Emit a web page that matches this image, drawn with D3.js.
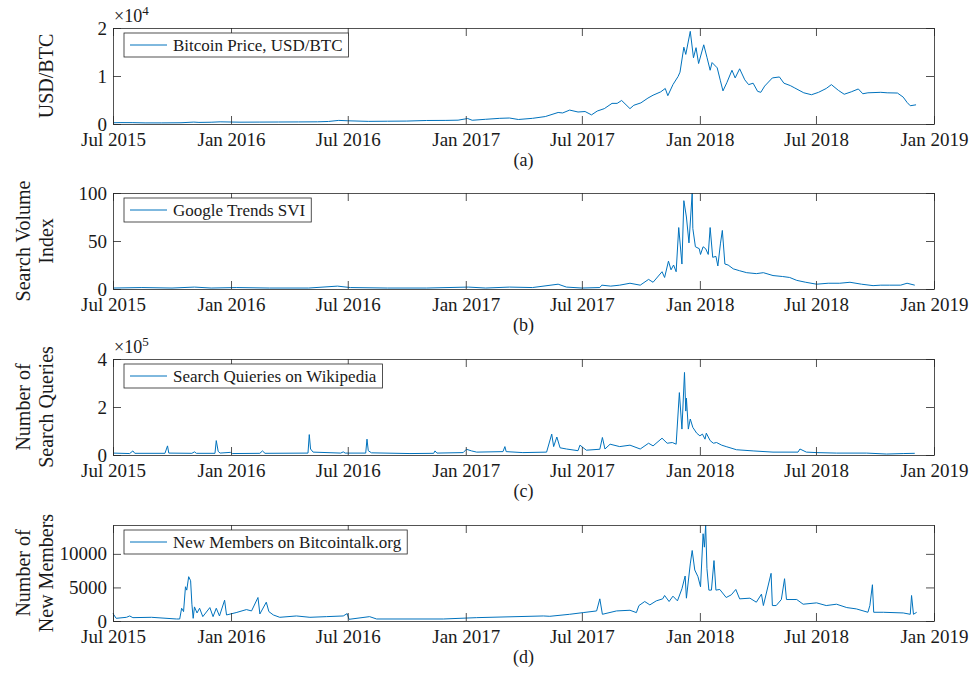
<!DOCTYPE html>
<html>
<head>
<meta charset="utf-8">
<script src="https://cdn.jsdelivr.net/npm/d3@7"></script>
<style>
    body { margin: 0; background: #fff; }
    text { font-family: "Liberation Serif", "Times New Roman", serif; fill: #1a1a1a; }
</style>
</head>
<body>
<div id="chart"></div>
<script>
// ---- data ----
const xTicks = ["2015-07-01", "2016-01-01", "2016-07-01", "2017-01-01", "2017-07-01", "2018-01-01", "2018-07-01", "2019-01-01"];

const priceData = [
    ["2015-07-01",260],["2015-07-12",290],["2015-08-01",280],["2015-08-20",230],["2015-09-15",230],["2015-10-15",260],
    ["2015-11-04",400],["2015-11-12",330],["2015-12-01",370],["2015-12-15",450],["2016-01-15",380],["2016-02-15",400],
    ["2016-03-15",415],["2016-04-15",430],["2016-05-15",455],["2016-06-01",530],["2016-06-17",750],["2016-07-01",670],
    ["2016-08-02",550],["2016-09-01",580],["2016-10-01",610],["2016-11-01",730],["2016-12-01",750],["2016-12-20",800],
    ["2017-01-04",1140],["2017-01-11",780],["2017-02-01",980],["2017-02-23",1180],["2017-03-10",1250],["2017-03-24",940],
    ["2017-04-15",1180],["2017-05-05",1550],["2017-05-25",2400],["2017-06-01",2300],["2017-06-12",2900],["2017-06-25",2500],
    ["2017-07-06",2600],["2017-07-16",1900],["2017-07-25",2700],["2017-08-05",3200],["2017-08-17",4300],["2017-08-25",4300],
    ["2017-09-01",4900],["2017-09-14",3200],["2017-09-20",3900],["2017-10-01",4400],["2017-10-12",5400],["2017-10-20",6000],
    ["2017-11-01",6700],["2017-11-08",7400],["2017-11-12",5900],["2017-11-20",8200],["2017-11-28",9900],["2017-12-01",10800],
    ["2017-12-07",16000],["2017-12-10",14500],["2017-12-17",19300],["2017-12-22",13800],["2017-12-26",15900],["2017-12-30",12600],
    ["2018-01-07",16500],["2018-01-12",13900],["2018-01-17",11200],["2018-01-20",12800],["2018-01-28",11700],["2018-02-02",9000],
    ["2018-02-06",6900],["2018-02-12",8600],["2018-02-20",11200],["2018-02-25",9600],["2018-03-04",11500],["2018-03-12",9200],
    ["2018-03-18",8200],["2018-03-25",8500],["2018-04-01",6800],["2018-04-06",6600],["2018-04-12",7900],["2018-04-24",9600],
    ["2018-05-05",9800],["2018-05-12",8500],["2018-05-22",8000],["2018-05-29",7500],["2018-06-12",6500],["2018-06-24",6100],
    ["2018-07-05",6600],["2018-07-17",7400],["2018-07-25",8200],["2018-08-05",7000],["2018-08-14",6200],["2018-08-25",6700],
    ["2018-09-05",7300],["2018-09-12",6300],["2018-09-20",6500],["2018-10-10",6600],["2018-10-20",6500],["2018-11-05",6450],
    ["2018-11-14",5600],["2018-11-20",4500],["2018-11-25",3800],["2018-12-04",4000]
];

const googleData = [
    ["2015-07-01",1],["2015-08-15",1.5],["2015-10-01",1],["2015-11-05",2],["2015-12-01",1],["2016-01-10",1.5],
    ["2016-03-01",1],["2016-05-01",1],["2016-06-15",3],["2016-07-05",1.5],["2016-09-01",1],["2016-11-01",1],
    ["2017-01-05",2],["2017-02-01",1],["2017-03-10",2],["2017-04-15",1.5],["2017-05-25",5],["2017-06-07",2],
    ["2017-07-01",1],["2017-07-29",1.5],["2017-08-01",4],["2017-08-15",3],["2017-08-29",4],["2017-09-14",6],
    ["2017-09-30",4],["2017-10-13",10],["2017-10-20",7],["2017-11-03",18],["2017-11-07",12],["2017-11-13",29],
    ["2017-11-17",20],["2017-11-21",25],["2017-11-25",18],["2017-11-29",64],["2017-12-04",26],["2017-12-07",92],
    ["2017-12-11",75],["2017-12-15",48],["2017-12-20",100],["2017-12-21",63],["2017-12-25",44],["2017-12-31",42],
    ["2018-01-02",36],["2018-01-06",44],["2018-01-10",42],["2018-01-14",36],["2018-01-17",64],["2018-01-21",33],
    ["2018-01-26",34],["2018-01-29",24],["2018-02-02",47],["2018-02-05",61],["2018-02-09",26],["2018-02-14",25],
    ["2018-02-22",21],["2018-03-04",19],["2018-03-15",17],["2018-03-30",16],["2018-04-10",17],["2018-04-25",14],
    ["2018-05-10",13],["2018-05-21",12],["2018-06-01",9],["2018-06-15",7],["2018-07-02",5],["2018-07-20",6],
    ["2018-08-07",6],["2018-08-23",7],["2018-09-10",5],["2018-09-28",3.5],["2018-10-10",4],["2018-10-24",4],
    ["2018-11-10",4],["2018-11-20",6],["2018-12-02",4]
];

const wikiData = [
    ["2015-07-01",8000],["2015-07-27",6000],["2015-08-01",17000],["2015-08-04",7000],["2015-09-20",7000],["2015-09-24",38000],
    ["2015-09-26",8000],["2015-11-01",7000],["2015-11-05",13000],["2015-11-08",7000],["2015-12-07",7000],["2015-12-09",60000],
    ["2015-12-12",15000],["2015-12-15",8000],["2015-12-31",11000],["2016-01-03",6000],["2016-02-15",7000],["2016-02-19",17000],
    ["2016-02-23",7000],["2016-04-30",8000],["2016-05-02",85000],["2016-05-04",25000],["2016-05-08",12000],["2016-06-20",8000],
    ["2016-06-24",13000],["2016-06-27",8000],["2016-07-29",8000],["2016-07-31",66000],["2016-08-02",18000],["2016-08-07",9000],
    ["2016-10-06",6000],["2016-11-12",7000],["2016-11-14",17000],["2016-11-17",8000],["2016-12-28",10000],["2017-01-02",24000],
    ["2017-01-10",17000],["2017-01-18",12000],["2017-02-28",14000],["2017-03-03",35000],["2017-03-05",14000],["2017-03-31",10000],
    ["2017-05-07",12000],["2017-05-15",87000],["2017-05-18",35000],["2017-05-23",75000],["2017-05-28",30000],["2017-06-07",25000],
    ["2017-06-25",18000],["2017-06-28",41000],["2017-07-08",20000],["2017-07-29",24000],["2017-08-02",73000],["2017-08-06",25000],
    ["2017-08-14",45000],["2017-08-29",35000],["2017-09-14",41000],["2017-09-30",25000],["2017-10-13",49000],["2017-10-20",38000],
    ["2017-11-03",70000],["2017-11-11",49000],["2017-11-19",52000],["2017-11-25",45000],["2017-11-30",260000],["2017-12-04",108000],
    ["2017-12-08",344000],["2017-12-10",183000],["2017-12-11",237000],["2017-12-14",108000],["2017-12-17",150000],["2017-12-21",115000],
    ["2017-12-27",91000],["2018-01-01",80000],["2018-01-05",87000],["2018-01-09",66000],["2018-01-11",91000],["2018-01-17",60000],
    ["2018-01-22",49000],["2018-01-27",52000],["2018-02-04",41000],["2018-02-11",35000],["2018-02-27",22000],["2018-03-25",17000],
    ["2018-04-25",12000],["2018-06-03",12000],["2018-06-06",25000],["2018-06-16",12000],["2018-07-02",10000],["2018-08-02",8000],
    ["2018-09-18",8000],["2018-10-19",4000],["2018-11-14",6000],["2018-12-02",7000]
];

const membersData = [
    ["2015-07-01",1100],["2015-07-06",400],["2015-07-22",550],["2015-07-27",750],["2015-08-01",500],["2015-08-30",550],
    ["2015-10-08",300],["2015-10-13",300],["2015-10-16",1900],["2015-10-19",1400],["2015-10-22",5100],["2015-10-24",4600],
    ["2015-10-27",6600],["2015-10-30",6000],["2015-11-01",2500],["2015-11-03",400],["2015-11-05",2100],["2015-11-09",1200],
    ["2015-11-13",1900],["2015-11-18",650],["2015-11-29",2000],["2015-12-04",650],["2015-12-09",1900],["2015-12-14",750],
    ["2015-12-22",3100],["2015-12-25",900],["2016-01-09",1250],["2016-01-25",1700],["2016-02-02",1500],["2016-02-12",3500],
    ["2016-02-15",1050],["2016-02-25",2800],["2016-02-29",1400],["2016-03-07",900],["2016-03-17",550],["2016-04-12",750],
    ["2016-05-03",550],["2016-05-29",650],["2016-06-24",750],["2016-06-30",1100],["2016-07-03",250],["2016-08-04",650],
    ["2016-08-15",300],["2016-11-27",300],["2017-01-18",500],["2017-05-02",750],["2017-05-12",700],["2017-06-12",1000],
    ["2017-07-03",1250],["2017-07-24",1500],["2017-07-29",3300],["2017-08-02",1000],["2017-08-24",1500],["2017-09-14",1600],
    ["2017-09-24",1250],["2017-09-28",2300],["2017-10-07",2900],["2017-10-15",2400],["2017-10-25",3000],["2017-11-04",3300],
    ["2017-11-07",3800],["2017-11-14",2900],["2017-11-20",3700],["2017-11-27",3000],["2017-12-04",4800],["2017-12-09",6700],
    ["2017-12-11",3400],["2017-12-17",8500],["2017-12-20",10500],["2017-12-24",7600],["2017-12-29",6600],["2018-01-02",5100],
    ["2018-01-06",13000],["2018-01-08",11000],["2018-01-10",14300],["2018-01-12",7800],["2018-01-15",4600],["2018-01-19",4600],
    ["2018-01-23",9000],["2018-01-26",4600],["2018-02-01",4700],["2018-02-11",3500],["2018-02-19",3900],["2018-02-26",4700],
    ["2018-03-04",3300],["2018-03-20",3400],["2018-03-30",2800],["2018-04-07",4000],["2018-04-10",2300],["2018-04-22",7100],
    ["2018-04-24",2300],["2018-04-30",2300],["2018-05-08",3200],["2018-05-13",6300],["2018-05-16",3200],["2018-06-01",3200],
    ["2018-06-11",2500],["2018-07-02",2700],["2018-07-17",2300],["2018-08-02",2500],["2018-08-18",2000],["2018-09-02",1800],
    ["2018-09-20",1300],["2018-09-23",2300],["2018-09-27",5400],["2018-09-29",1300],["2018-10-14",1300],["2018-11-14",1200],
    ["2018-11-25",1000],["2018-11-27",3800],["2018-11-30",1000],["2018-12-05",1300]
];

const priceTicks = [0, 10000, 20000];
const googleTicks = [0, 50, 100];
const wikiTicks = [0, 200000, 400000];
const membersTicks = [0, 5000, 10000];

// ---- layout ----
const width = 978, height = 673;
const left = 113, right = 934, plotH = 96;
const lineColor = "#0072BD", axisColor = "#262626";
const parseDate = d3.timeParse("%Y-%m-%d");

const panels = [
    {top: 28,  data: priceData,   ticks: priceTicks,   yMax: 20000,  fmt: d => d / 1e4, exp: "4",
     label: ["USD/BTC"], legend: "Bitcoin Price, USD/BTC", caption: "(a)"},
    {top: 193, data: googleData,  ticks: googleTicks,  yMax: 100,    fmt: d => d, exp: null,
     label: ["Search Volume", "Index"], legend: "Google Trends SVI", caption: "(b)"},
    {top: 359, data: wikiData,    ticks: wikiTicks,    yMax: 400000, fmt: d => d / 1e5, exp: "5",
     label: ["Number of", "Search Queries"], legend: "Search Quieries on Wikipedia", caption: "(c)"},
    {top: 525, data: membersData, ticks: membersTicks, yMax: 14300,  fmt: d => d, exp: null,
     label: ["Number of", "New Members"], legend: "New Members on Bitcointalk.org", caption: "(d)"}
];

const svg = d3.select("#chart").append("svg")
    .attr("width", width)
    .attr("height", height);

const x = d3.scaleTime()
    .domain([parseDate("2015-07-01"), parseDate("2019-01-01")])
    .range([left, right]);

const xTickDates = xTicks.map(parseDate);

panels.forEach(p => {
    let bottom = p.top + plotH;
    let y = d3.scaleLinear().domain([0, p.yMax]).range([bottom, p.top]);
    let g = svg.append("g");

    // series line
    let line = d3.line()
        .x(d => x(parseDate(d[0])))
        .y(d => y(d[1]));

    g.append("path")
        .datum(p.data)
        .attr("d", line)
        .attr("fill", "none")
        .attr("stroke", lineColor)
        .attr("stroke-width", 1)
        .attr("stroke-linejoin", "round");

    // axes, ticks pointing inward on all four sides
    let xb = g.append("g").attr("transform", `translate(0,${bottom})`)
        .call(d3.axisBottom(x).tickValues(xTickDates).tickFormat(d3.timeFormat("%b %Y"))
            .tickSizeInner(-8).tickSizeOuter(0).tickPadding(9));
    let xt = g.append("g").attr("transform", `translate(0,${p.top})`)
        .call(d3.axisTop(x).tickValues(xTickDates).tickFormat("").tickSizeInner(-8).tickSizeOuter(0));
    let yl = g.append("g").attr("transform", `translate(${left},0)`)
        .call(d3.axisLeft(y).tickValues(p.ticks).tickFormat(p.fmt)
            .tickSizeInner(-8).tickSizeOuter(0).tickPadding(6));
    let yr = g.append("g").attr("transform", `translate(${right},0)`)
        .call(d3.axisRight(y).tickValues(p.ticks).tickFormat("").tickSizeInner(-8).tickSizeOuter(0));

    [xb, xt, yl, yr].forEach(a => {
        a.selectAll(".domain, .tick line").attr("stroke", axisColor).attr("stroke-width", 0.8);
        a.selectAll("text").style("font-size", "19px").attr("fill", "#1a1a1a");
    });

    // exponent label
    if (p.exp) {
        let t = g.append("text")
            .attr("x", left + 1)
            .attr("y", p.top - 6)
            .style("font-size", "18px")
            .text("\u00d710");
        t.append("tspan")
            .attr("dy", -7)
            .style("font-size", "13px")
            .text(p.exp);
    }

    // y label (rotated, one or two lines)
    let cy = p.top + plotH / 2;
    let baseX = p.label.length === 1 ? [53] : [30, 53];
    p.label.forEach((s, i) => {
        g.append("text")
            .attr("transform", `translate(${baseX[i]},${cy}) rotate(-90)`)
            .attr("text-anchor", "middle")
            .style("font-size", "20px")
            .text(s);
    });

    // legend
    let lg = g.append("g").attr("transform", `translate(${left + 11},${p.top + 5})`);
    let lt = lg.append("text")
        .attr("x", 49)
        .attr("y", 12)
        .attr("dy", "0.35em")
        .style("font-size", "17px")
        .text(p.legend);
    let w = lt.node().getComputedTextLength();
    lg.insert("rect", "text")
        .attr("width", w + 55)
        .attr("height", 24)
        .attr("fill", "#fff")
        .attr("stroke", axisColor)
        .attr("stroke-width", 0.8);
    lg.append("line")
        .attr("x1", 6).attr("x2", 43)
        .attr("y1", 12).attr("y2", 12)
        .attr("stroke", lineColor)
        .attr("stroke-width", 1);

    // caption
    g.append("text")
        .attr("x", (left + right) / 2)
        .attr("y", bottom + 42)
        .attr("text-anchor", "middle")
        .style("font-size", "18px")
        .text(p.caption);
});
</script>
</body>
</html>
